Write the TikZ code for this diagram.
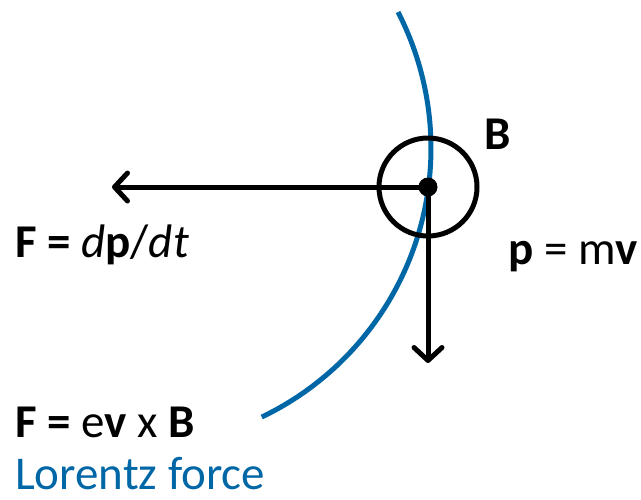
\documentclass[tikz,border=0pt]{standalone}
\usepackage{fontspec}
\setmainfont{Carlito}
\usetikzlibrary{arrows.meta}
\definecolor{arcblue}{RGB}{0,103,166}
\begin{document}
\begin{tikzpicture}[x=1pt,y=-1pt,
  lbl/.style={inner sep=0pt,anchor=base west,font=\fontsize{47}{56}\selectfont},
  vec/.style={line width=5pt,-{Straight Barb[length=13pt,width=28pt,line width=5pt,round]}}]
\useasboundingbox (0,0) rectangle (641,499);
% trajectory arc (centre 133,148.3 ; r 298)
\draw[arcblue,line width=5pt] (133,148.3) ++(27.2:298 and -298) arc[start angle=27.2,end angle=-64.4,x radius=298,y radius=-298];
\coordinate (o) at (428,187);
\coordinate (fend) at (112,187);
\coordinate (pend) at (428,363);
\draw[vec] (o) -- (fend);
\draw[vec] (o) -- (pend);
\node[draw,circle,line width=5pt,minimum size=98pt,inner sep=0pt] (bc) at (o) {};
\fill (o) circle[radius=9.5pt];
\node[lbl,anchor=center] (B) at (498,134) {\textbf{B}};
\node[lbl] (F1) at (15,257) {\textbf{F =} \textit{d}\textbf{p}/\textit{dt}};
\node[lbl] (p) at (508,264) {\textbf{p} = m\textbf{v}};
\node[lbl] (F2) at (15,437) {\textbf{F =} e\textbf{v} x \textbf{B}};
\node[lbl,text=arcblue,text depth=0pt] (L) at (15,489) {Lorentz force};
\end{tikzpicture}
\end{document}
